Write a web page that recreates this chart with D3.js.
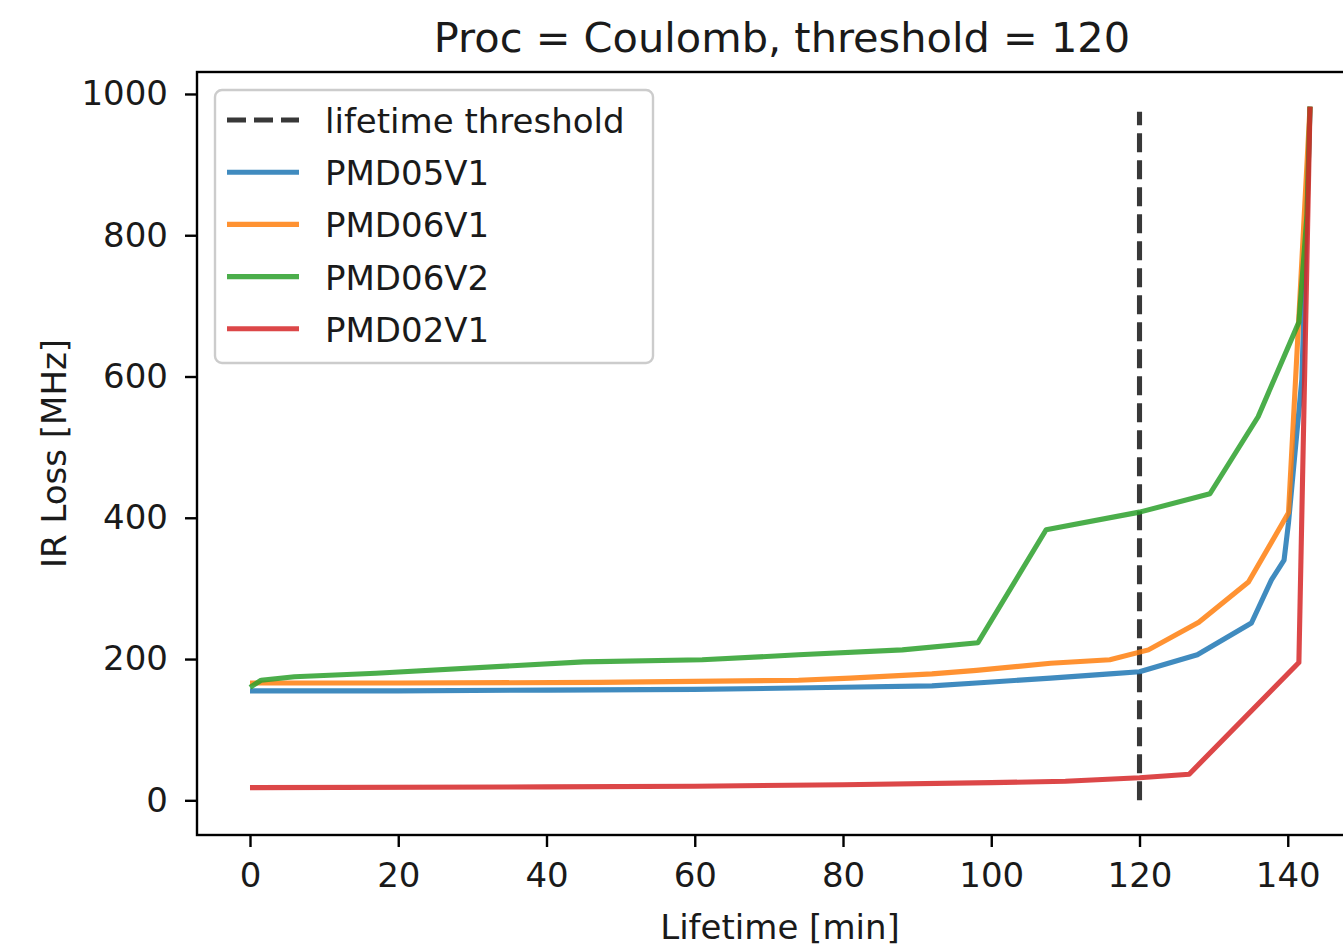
<!DOCTYPE html>
<html>
<head>
<meta charset="utf-8">
<script src="https://cdn.jsdelivr.net/npm/d3@7"></script>
<style>
  html, body { margin: 0; padding: 0; background: #fff; overflow: hidden; }
  text { font-family: "DejaVu Sans", sans-serif; fill: #1a1a1a; }
</style>
</head>
<body>
<div id="chart"></div>
<script>
// Series names, in legend order
const seriesNames = ["PMD05V1", "PMD06V1", "PMD06V2", "PMD02V1"];
const seriesColors = ["#1f77b4", "#ff7f0e", "#2ca02c", "#d62728"];

// Lifetime [min] and IR loss [MHz] for each series
const pmd05v1X = [0, 20, 40, 60, 80, 92, 98, 108, 116, 120, 127.8, 135.1, 137.8, 139.5, 140.1, 141.9, 143];
const pmd05v1Y = [155, 155, 156, 157, 160, 162, 166, 173, 179, 182, 206, 251, 312, 340, 393, 596, 982];

const pmd06v1X = [0, 20, 47, 74, 81, 92, 98, 108, 116, 121.2, 128, 134.7, 140.1, 143];
const pmd06v1Y = [166, 166, 167, 170, 173, 179, 184, 194, 199, 213, 252, 309, 407, 982];

const pmd06v2X = [0, 1.5, 6, 17, 45, 61, 74, 88, 98.2, 107.4, 120, 129.5, 136, 141.5, 142.6, 143];
const pmd06v2Y = [160, 170, 175, 180, 196, 199, 206, 213, 223, 383, 408, 434, 543, 677, 830, 982];

const pmd02v1X = [0, 40, 60, 80, 100, 110, 120, 126.7, 141.5, 143];
const pmd02v1Y = [18, 19, 20, 22, 25, 27, 32, 37, 195, 982];

// Lifetime threshold line
const thresholdX = [120, 120];
const thresholdY = [0, 975];

// Tick values
const xTicks = [0, 20, 40, 60, 80, 100, 120, 140];
const yTicks = [0, 200, 400, 600, 800, 1000];

const seriesX = [pmd05v1X, pmd06v1X, pmd06v2X, pmd02v1X];
const seriesY = [pmd05v1Y, pmd06v1Y, pmd06v2Y, pmd02v1Y];

const width = 1343, height = 948;
const margin = { left: 197, right: 1363, top: 72, bottom: 835 };
const lw = 5.1;

// matplotlib-like 5% padding on data limits
function padded(values) {
    const [lo, hi] = d3.extent(values);
    const p = (hi - lo) * 0.05;
    return [lo - p, hi + p];
}

const allX = seriesX.flat().concat(thresholdX);
const allY = seriesY.flat().concat(thresholdY);

const x = d3.scaleLinear().domain(padded(allX)).range([margin.left, margin.right]);
const y = d3.scaleLinear().domain(padded(allY)).range([margin.bottom, margin.top]);

const svg = d3.select("#chart").append("svg")
    .attr("width", width)
    .attr("height", height)
    .attr("viewBox", [0, 0, width, height]);

// Title
svg.append("text")
    .attr("x", 782)
    .attr("y", 52)
    .attr("text-anchor", "middle")
    .style("font-size", "41.5px")
    .text("Proc = Coulomb, threshold = 120");

// Axis frame
svg.append("rect")
    .attr("x", margin.left)
    .attr("y", margin.top)
    .attr("width", margin.right - margin.left)
    .attr("height", margin.bottom - margin.top)
    .attr("fill", "none")
    .attr("stroke", "#000")
    .attr("stroke-width", 2.4);

// X axis
const xAxis = svg.append("g")
    .attr("transform", `translate(0,${margin.bottom})`)
    .call(d3.axisBottom(x).tickValues(xTicks).tickFormat(d3.format("d"))
        .tickSize(12).tickPadding(16).tickSizeOuter(0));
xAxis.select(".domain").remove();
xAxis.selectAll("line").attr("stroke", "#000").attr("stroke-width", 2.4);
xAxis.selectAll("text").style("font-size", "34px").attr("fill", "#1a1a1a");

// Y axis
const yAxis = svg.append("g")
    .attr("transform", `translate(${margin.left},0)`)
    .call(d3.axisLeft(y).tickValues(yTicks).tickFormat(d3.format("d"))
        .tickSize(12).tickPadding(17).tickSizeOuter(0));
yAxis.select(".domain").remove();
yAxis.selectAll("line").attr("stroke", "#000").attr("stroke-width", 2.4);
yAxis.selectAll("text").style("font-size", "34px").attr("fill", "#1a1a1a");

// Axis labels
svg.append("text")
    .attr("x", 780)
    .attr("y", 939)
    .attr("text-anchor", "middle")
    .style("font-size", "34px")
    .text("Lifetime [min]");

svg.append("text")
    .attr("transform", `translate(66,${(margin.top + margin.bottom) / 2}) rotate(-90)`)
    .attr("text-anchor", "middle")
    .style("font-size", "34px")
    .text("IR Loss [MHz]");

const line = d3.line()
    .x(d => x(d[0]))
    .y(d => y(d[1]));

// Threshold (dashed)
svg.append("path")
    .datum(d3.zip(thresholdX, thresholdY))
    .attr("fill", "none")
    .attr("stroke", "#000")
    .attr("stroke-opacity", 0.78)
    .attr("stroke-width", lw)
    .attr("stroke-dasharray", "19,8")
    .attr("d", line);

// Series lines
seriesNames.forEach((name, i) => {
    svg.append("path")
        .datum(d3.zip(seriesX[i], seriesY[i]))
        .attr("fill", "none")
        .attr("stroke", seriesColors[i])
        .attr("stroke-opacity", 0.85)
        .attr("stroke-width", lw)
        .attr("stroke-linejoin", "round")
        .attr("d", line);
});

// Legend
const legend = svg.append("g").attr("transform", "translate(215,90)");
legend.append("rect")
    .attr("width", 438)
    .attr("height", 273)
    .attr("rx", 7)
    .attr("fill", "#fff")
    .attr("fill-opacity", 0.8)
    .attr("stroke", "#cccccc")
    .attr("stroke-width", 2.4);

const legendItems = [{ name: "lifetime threshold", color: "#000", dash: "19,8", op: 0.78 }]
    .concat(seriesNames.map((n, i) => ({ name: n, color: seriesColors[i], dash: null, op: 0.85 })));

legendItems.forEach((d, i) => {
    const cy = 30 + i * 52.2;
    legend.append("line")
        .attr("x1", 12).attr("x2", 84)
        .attr("y1", cy).attr("y2", cy)
        .attr("stroke", d.color)
        .attr("stroke-opacity", d.op)
        .attr("stroke-width", lw)
        .attr("stroke-dasharray", d.dash);
    legend.append("text")
        .attr("x", 110)
        .attr("y", cy + 13)
        .style("font-size", "34px")
        .text(d.name);
});
</script>
</body>
</html>
